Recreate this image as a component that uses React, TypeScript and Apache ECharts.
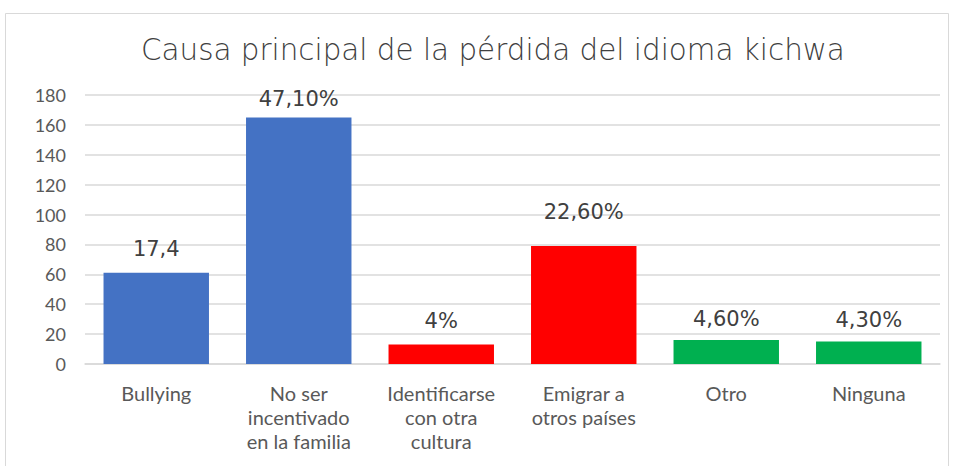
import React, { useEffect, useRef } from "react";
import * as echarts from "echarts";

const categories = [
  "Bullying",
  "No ser\nincentivado\nen la familia",
  "Identificarse\ncon otra\ncultura",
  "Emigrar a\notros países",
  "Otro",
  "Ninguna",
];
const values = [61, 165, 13, 79, 16, 15];
const dataLabels = ["17,4", "47,10%", "4%", "22,60%", "4,60%", "4,30%"];
const labelDistances = [13, 8, 13, 23, 11, 11];
const barColors = ["#4472C4", "#4472C4", "#FF0000", "#FF0000", "#00B050", "#00B050"];
const titleText = "Causa principal de la pérdida del idioma kichwa";

export default function App() {
  const ref = useRef<HTMLDivElement>(null);
  useEffect(() => {
    if (!ref.current) return;
    const chart = echarts.init(ref.current, null, { renderer: "svg" });
    chart.setOption({
      animation: false,
      backgroundColor: "#ffffff",
      graphic: [
        {
          type: "rect",
          shape: { x: 5.5, y: 13.5, width: 943, height: 470 },
          style: { fill: "none", stroke: "#d9d9d9", lineWidth: 1 },
          silent: true,
        },
      ],
      title: {
        text: titleText,
        left: 136,
        top: 30,
        textStyle: {
          fontFamily: "DejaVu Sans",
          fontWeight: 200,
          fontSize: 29.4,
          color: "#404040",
        },
      },
      grid: { left: 85, right: 14, top: 95, bottom: 102 },
      xAxis: {
        type: "category",
        data: categories,
        axisLine: { show: true, lineStyle: { color: "#d9d9d9", width: 1.5 } },
        axisTick: { show: false },
        axisLabel: {
          interval: 0,
          margin: 17,
          fontFamily: "Lato, sans-serif",
          fontSize: 20,
          lineHeight: 24,
          color: "#595959",
        },
      },
      yAxis: {
        type: "value",
        min: 0,
        max: 180,
        interval: 20,
        axisLine: { show: false },
        axisTick: { show: false },
        splitLine: { lineStyle: { color: "#d9d9d9", width: 1.5 } },
        axisLabel: {
          margin: 19,
          fontFamily: "Lato, sans-serif",
          fontSize: 18,
          color: "#595959",
        },
      },
      series: [
        {
          type: "bar",
          barCategoryGap: "26%",
          data: values.map((v, i) => ({
            value: v,
            itemStyle: { color: barColors[i] },
            label: { distance: labelDistances[i] },
          })),
          label: {
            show: true,
            position: "top",
            fontFamily: "DejaVu Sans, sans-serif",
            fontSize: 21,
            color: "#404040",
            formatter: (p: any) => dataLabels[p.dataIndex],
          },
        },
      ],
    });
    return () => chart.dispose();
  }, []);
  return (
    <div
      ref={ref}
      style={{ position: "fixed", left: 0, top: 0, width: 954, height: 466 }}
    />
  );
}
